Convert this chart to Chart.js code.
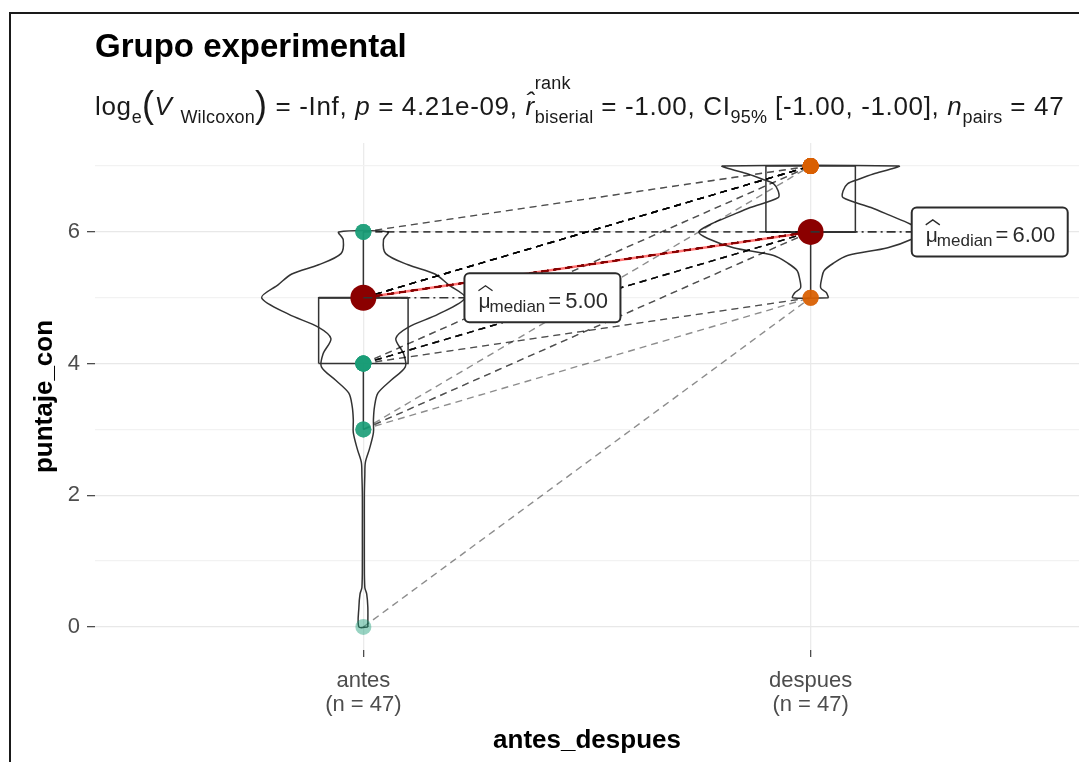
<!DOCTYPE html>
<html>
<head>
<meta charset="utf-8">
<script src="https://cdn.jsdelivr.net/npm/chart.js@4.4.0/dist/chart.umd.min.js"></script>
<style>
    body { margin: 0; background: #fff; width: 1079px; height: 762px; overflow: hidden; position: relative; font-family: "Liberation Sans", Arial, sans-serif; }
    #marco { position: absolute; left: 9px; top: 12px; width: 1200px; height: 900px; border-left: 2px solid #1a1a1a; border-top: 2px solid #1a1a1a; }
    #titulo { position: absolute; left: 95px; top: 29px; font-size: 33px; font-weight: bold; color: #000; line-height: 1; white-space: nowrap; }
    #subtitulo { position: absolute; left: 95px; top: 93px; font-size: 26px; letter-spacing: 0.65px; color: #1a1a1a; line-height: 1; white-space: nowrap; }
    #subtitulo sub { font-size: 18px; letter-spacing: 0.2px; vertical-align: baseline; position: relative; top: 0.42em; line-height: 0; }
    #subtitulo .par { font-size: 36px; line-height: 0; position: relative; top: 2px; }
    #subtitulo .pila { position: relative; display: inline; }
    #subtitulo .pila .rank { position: absolute; left: 0; top: -0.95em; font-size: 18px; letter-spacing: 0.2px; line-height: 1; }
    #subtitulo .pila .bis { font-size: 18px; letter-spacing: 0.2px; position: relative; top: 0.45em; line-height: 0; }
    canvas { position: absolute; left: 0; top: 0; }
</style>
</head>
<body>
<div id="marco"></div>
<canvas id="grafico" width="1079" height="762"></canvas>
<div id="titulo">Grupo experimental</div>
<div id="subtitulo">log<sub>e</sub><span class="par">(</span><i>V</i> <sub>Wilcoxon</sub><span class="par">)</span> = -Inf, <i>p</i> = 4.21e-09, <i>r&#770;</i><span class="pila"><span class="rank">rank</span><span class="bis">biserial</span></span> = -1.00, CI<sub>95%</sub> [-1.00, -1.00], <i>n</i><sub>pairs</sub> = 47</div>

<script>
// categorias y tamaños
const categorias = ['antes', 'despues'];
const tamanos = [47, 47];

// puntajes pareados (mismo orden = mismo sujeto)
const antes = [0, 3, 3, 3, 3, 4, 4, 4, 4, 4, 4, 4, 4, 4, 4,
    5, 5, 5, 5, 5, 5, 5, 5, 5, 5, 5, 5, 5, 5, 5, 5, 5, 5, 5, 5, 5, 5, 5, 5, 5, 5, 5,
    6, 6, 6, 6, 6];
const despues = [5, 5, 6, 6, 7, 5, 5, 6, 6, 6, 6, 6, 6, 7, 7,
    6, 6, 6, 6, 6, 6, 6, 6, 6, 6, 6, 6, 6, 6, 6, 6, 6, 7, 7, 7, 7, 7, 7, 7, 7, 7, 7,
    6, 6, 6, 7, 7];

// resumen de cajas
const medianas = [5, 6];
const cajaMin = [3, 5];
const cajaQ1 = [4, 6];
const cajaQ3 = [5, 7];
const cajaMax = [6, 7];

// densidad relativa de los violines
const violinAntesY = [0, 0.3, 0.5, 0.6, 1, 1.5, 2, 2.3, 2.5, 2.7, 2.95, 3.15, 3.35, 3.55, 3.75, 3.95, 4.15, 4.38, 4.55, 4.75, 5.0, 5.2, 5.36, 5.5, 5.67, 5.88, 6.0];
const violinAntesDens = [0.04, 0.04, 0.03, 0.013, 0.009, 0.009, 0.009, 0.013, 0.018, 0.054, 0.09, 0.09, 0.1, 0.13, 0.25, 0.375, 0.36, 0.29, 0.4, 0.67, 0.91, 0.76, 0.64, 0.4, 0.2, 0.18, 0.22];
const violinDespuesY = [5.0, 5.08, 5.15, 5.3, 5.41, 5.52, 5.64, 5.76, 5.9, 6.0, 6.12, 6.25, 6.37, 6.52, 6.62, 6.73, 6.8, 6.88, 6.95, 7.0];
const violinDespuesDens = [0.16, 0.14, 0.09, 0.1, 0.12, 0.2, 0.33, 0.69, 0.92, 1, 0.89, 0.71, 0.54, 0.29, 0.29, 0.33, 0.43, 0.56, 0.71, 0.79];

const yTicks = [0, 1, 2, 3, 4, 5, 6, 7];

const ANCHO_VIOLIN = 0.25;
const ANCHO_CAJA = 0.1;
const GRIS = '#333333';

function violin(xc, ys, dens) {
    const der = ys.map((y, i) => ({ x: xc + dens[i] * ANCHO_VIOLIN, y }));
    const izq = ys.map((y, i) => ({ x: xc - dens[i] * ANCHO_VIOLIN, y })).reverse();
    return [...der, ...izq, der[0]];
}

function linea(data, extra) {
    return Object.assign({ type: 'scatter', showLine: true, data, pointRadius: 0, borderColor: GRIS, borderWidth: 1.5, fill: false, tension: 0 }, extra);
}

const datasets = [];

// violines
datasets.push(linea(violin(1, violinAntesY, violinAntesDens), { tension: 0.3, order: 10 }));
datasets.push(linea(violin(2, violinDespuesY, violinDespuesDens), { tension: 0.3, order: 10 }));

// cajas
categorias.forEach((c, i) => {
    const xc = i + 1;
    datasets.push(linea([
        { x: xc - ANCHO_CAJA, y: cajaQ1[i] }, { x: xc + ANCHO_CAJA, y: cajaQ1[i] },
        { x: xc + ANCHO_CAJA, y: cajaQ3[i] }, { x: xc - ANCHO_CAJA, y: cajaQ3[i] },
        { x: xc - ANCHO_CAJA, y: cajaQ1[i] }
    ], { order: 9 }));
    datasets.push(linea([{ x: xc - ANCHO_CAJA, y: medianas[i] }, { x: xc + ANCHO_CAJA, y: medianas[i] }], { order: 9, borderWidth: 2 }));
    datasets.push(linea([{ x: xc, y: cajaQ3[i] }, { x: xc, y: cajaMax[i] }], { order: 9 }));
    datasets.push(linea([{ x: xc, y: cajaMin[i] }, { x: xc, y: cajaQ1[i] }], { order: 9 }));
});

// trayectorias pareadas
antes.forEach((a, i) => {
    datasets.push(linea([{ x: 1, y: a }, { x: 2, y: despues[i] }], {
        order: 8, borderColor: 'rgba(0,0,0,0.45)', borderWidth: 1.4, borderDash: [7, 5]
    }));
});

// puntos
datasets.push({ type: 'scatter', data: antes.map(v => ({ x: 1, y: v })), pointRadius: 8, pointHoverRadius: 8, backgroundColor: 'rgba(27,158,119,0.45)', borderWidth: 0, order: 7 });
datasets.push({ type: 'scatter', data: despues.map(v => ({ x: 2, y: v })), pointRadius: 8, pointHoverRadius: 8, backgroundColor: 'rgba(217,95,2,0.5)', borderWidth: 0, order: 7 });

// linea de medianas y puntos de mediana
datasets.push(linea(medianas.map((m, i) => ({ x: i + 1, y: m })), { order: 6, borderColor: 'rgba(255,0,0,0.55)', borderWidth: 2.5 }));
datasets.push({ type: 'scatter', data: medianas.map((m, i) => ({ x: i + 1, y: m })), pointRadius: 13, pointHoverRadius: 13, backgroundColor: '#8b0000', borderWidth: 0, order: 5 });

// etiquetas de mediana
const etiquetasMediana = {
    id: 'etiquetasMediana',
    afterDatasetsDraw(chart) {
        const { ctx, scales: { x, y } } = chart;
        medianas.forEach((m, i) => {
            const px = x.getPixelForValue(i + 1);
            const py = y.getPixelForValue(m);
            const bx = x.getPixelForValue(i + 1.226);
            const w = 156, h = 49;
            ctx.save();
            ctx.setLineDash([9, 4, 2, 4]);
            ctx.strokeStyle = GRIS;
            ctx.lineWidth = 1.6;
            ctx.beginPath(); ctx.moveTo(px, py); ctx.lineTo(bx, py); ctx.stroke();
            ctx.setLineDash([]);
            ctx.beginPath();
            ctx.roundRect(bx, py - h / 2, w, h, 5);
            ctx.fillStyle = '#fff';
            ctx.fill();
            ctx.lineWidth = 2;
            ctx.strokeStyle = '#2b2b2b';
            ctx.stroke();

            ctx.fillStyle = '#2b2b2b';
            ctx.textBaseline = 'alphabetic';
            ctx.textAlign = 'left';
            const base = py + 10;
            let cx = bx + 14;
            ctx.font = '21px "Liberation Sans", Arial, sans-serif';
            ctx.fillText('μ', cx, base);
            const mw = ctx.measureText('μ').width;
            // sombrerito
            ctx.lineWidth = 1.3;
            ctx.beginPath();
            ctx.moveTo(cx, base - 17); ctx.lineTo(cx + mw / 2 + 1, base - 22); ctx.lineTo(cx + mw + 2, base - 17);
            ctx.stroke();
            cx += mw - 1;
            ctx.font = '17px "Liberation Sans", Arial, sans-serif';
            ctx.fillText('median', cx, base + 4);
            cx += ctx.measureText('median').width + 3;
            ctx.font = '22px "Liberation Sans", Arial, sans-serif';
            ctx.fillText('=', cx, base);
            cx += ctx.measureText('=').width + 4;
            ctx.fillText(m.toFixed(2), cx, base);
            ctx.restore();
        });
    }
};

Chart.defaults.font.family = '"Liberation Sans", Arial, sans-serif';

new Chart(document.getElementById('grafico'), {
    type: 'scatter',
    data: { datasets },
    options: {
        responsive: false,
        animation: false,
        devicePixelRatio: 1,
        layout: { autoPadding: false, padding: { top: 143, right: 0, bottom: 0, left: 0 } },
        plugins: { legend: { display: false }, tooltip: { enabled: false } },
        scales: {
            x: {
                type: 'linear', min: 0.4, max: 2.6,
                afterBuildTicks: s => { s.ticks = categorias.map((c, i) => ({ value: i + 1 })); },
                afterFit: s => { s.height = 112; },
                ticks: {
                    autoSkip: false, maxRotation: 0, padding: 12, color: '#4d4d4d',
                    font: { size: 22, lineHeight: 1.1 },
                    callback: (v) => [categorias[v - 1], `(n = ${tamanos[v - 1]})`]
                },
                grid: { color: '#ebebeb', lineWidth: 1.3, tickColor: '#4d4d4d', tickLength: 7, tickWidth: 1.3 },
                border: { display: false },
                title: { display: true, text: 'antes_despues', color: '#000', font: { size: 26, weight: 'bold' }, padding: { top: 0, bottom: 6 } }
            },
            y: {
                type: 'linear', min: -0.35, max: 7.35,
                afterBuildTicks: s => { s.ticks = yTicks.map(v => ({ value: v })); },
                afterFit: s => { s.width = 95; },
                ticks: {
                    padding: 7, color: '#4d4d4d', font: { size: 22 },
                    callback: v => (v % 2 === 0 ? v : '')
                },
                grid: {
                    color: c => (c.tick && c.tick.value % 2 === 0 ? '#e8e8e8' : '#f2f2f2'),
                    lineWidth: 1.3,
                    tickColor: c => (c.tick && c.tick.value % 2 === 0 ? '#4d4d4d' : 'rgba(0,0,0,0)'),
                    tickLength: 8, tickWidth: 1.3
                },
                border: { display: false },
                title: { display: true, text: 'puntaje_con', color: '#000', font: { size: 26, weight: 'bold' }, padding: { top: 29, bottom: 0 } }
            }
        }
    },
    plugins: [etiquetasMediana]
});
</script>
</body>
</html>
